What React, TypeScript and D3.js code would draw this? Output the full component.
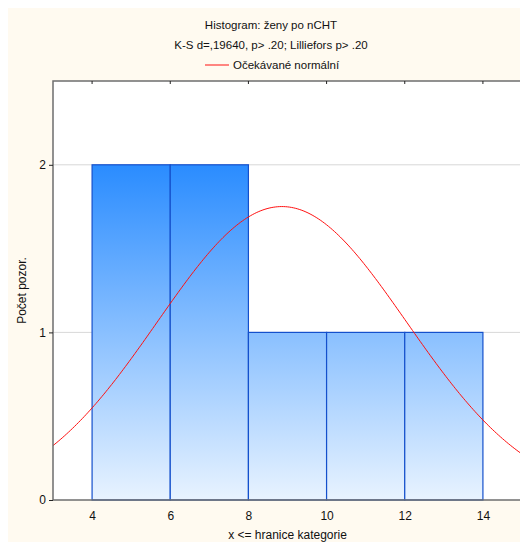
import { useEffect, useRef } from "react";
import * as d3 from "d3";

const binStarts = [4, 6, 8, 10, 12];
const binEnds = [6, 8, 10, 12, 14];
const counts = [2, 2, 1, 1, 1];
const xTicks = [4, 6, 8, 10, 12, 14];
const yTicks = [0, 1, 2];
const normalMean = 8.857;
const normalSd = 3.19;
const sampleSize = 7;

export default function App() {
  const svgRef = useRef<SVGSVGElement>(null);

  useEffect(() => {
    if (!svgRef.current) return;
    const width = 520;
    const height = 534;
    const margin = { top: 73, right: 6, bottom: 42, left: 45 };
    const innerWidth = width - margin.left - margin.right;
    const innerHeight = height - margin.top - margin.bottom;
    const font = "'Liberation Sans', Arial, sans-serif";

    d3.select(svgRef.current).selectAll("*").remove();
    const svg = d3
      .select(svgRef.current)
      .attr("width", width)
      .attr("height", height)
      .style("display", "block");

    svg.append("rect").attr("width", width).attr("height", height).attr("fill", "#fffaf0");

    const g = svg.append("g").attr("transform", `translate(${margin.left},${margin.top})`);

    const x = d3.scaleLinear().domain([3, 15]).range([0, innerWidth]);
    const y = d3.scaleLinear().domain([0, 2.5]).range([innerHeight, 0]);

    // gradient for bars
    const grad = svg
      .append("defs")
      .append("linearGradient")
      .attr("id", "bar-grad")
      .attr("gradientUnits", "userSpaceOnUse")
      .attr("x1", 0)
      .attr("x2", 0)
      .attr("y1", y(2))
      .attr("y2", y(0));
    grad.append("stop").attr("offset", "0%").attr("stop-color", "#2a8cff");
    grad.append("stop").attr("offset", "100%").attr("stop-color", "#e8f3ff");

    g.append("rect").attr("width", innerWidth).attr("height", innerHeight).attr("fill", "#ffffff");

    // gridlines
    g.selectAll(".grid")
      .data(yTicks.filter((d) => d > 0))
      .join("line")
      .attr("x1", 0)
      .attr("x2", innerWidth)
      .attr("y1", (d) => y(d))
      .attr("y2", (d) => y(d))
      .attr("stroke", "#d8d8d8")
      .attr("stroke-width", 1);

    // bars
    g.selectAll(".bar")
      .data(counts)
      .join("rect")
      .attr("x", (_, i) => x(binStarts[i]))
      .attr("y", (d) => y(d))
      .attr("width", (_, i) => x(binEnds[i]) - x(binStarts[i]))
      .attr("height", (d) => innerHeight - y(d))
      .attr("fill", "url(#bar-grad)")
      .attr("stroke", "#1450cc")
      .attr("stroke-width", 1.2);

    // expected normal curve
    const pts = d3.range(3, 15.001, 0.05);
    const line = d3
      .line<number>()
      .x((d) => x(d))
      .y((d) =>
        y(
          ((sampleSize * 2) / (normalSd * Math.sqrt(2 * Math.PI))) *
            Math.exp(-((d - normalMean) ** 2) / (2 * normalSd * normalSd))
        )
      );
    g.append("path")
      .datum(pts)
      .attr("d", line)
      .attr("fill", "none")
      .attr("stroke", "#ff1010")
      .attr("stroke-width", 1);

    // frame
    g.append("rect")
      .attr("width", innerWidth)
      .attr("height", innerHeight)
      .attr("fill", "none")
      .attr("stroke", "#6e6e6e")
      .attr("stroke-width", 1.5);

    // inner mirror ticks on top
    g.selectAll(".ttick")
      .data(xTicks)
      .join("line")
      .attr("x1", (d) => x(d))
      .attr("x2", (d) => x(d))
      .attr("y1", 0)
      .attr("y2", 3)
      .attr("stroke", "#222");

    // axes
    const xAxis = g
      .append("g")
      .attr("transform", `translate(0,${innerHeight})`)
      .call(d3.axisBottom(x).tickValues(xTicks).tickSize(0).tickPadding(11).tickFormat(d3.format("d")));
    xAxis.select(".domain").remove();
    xAxis.selectAll("text").attr("font-family", font).attr("font-size", 12).attr("fill", "#111");

    const yAxis = g
      .append("g")
      .call(d3.axisLeft(y).tickValues(yTicks).tickSize(4).tickPadding(3).tickFormat(d3.format("d")));
    yAxis.select(".domain").remove();
    yAxis.selectAll("line").attr("stroke", "#222");
    yAxis.selectAll("text").attr("font-family", font).attr("font-size", 12).attr("fill", "#111");

    // titles
    const cx = width / 2 + 3;
    svg.append("text").attr("x", cx).attr("y", 21).attr("text-anchor", "middle")
      .attr("font-family", font).attr("font-size", 11.5).attr("fill", "#111")
      .text("Histogram: ženy po nCHT");
    svg.append("text").attr("x", cx).attr("y", 41).attr("text-anchor", "middle")
      .attr("font-family", font).attr("font-size", 11.5).attr("fill", "#111")
      .text("K-S d=,19640, p> .20; Lilliefors p> .20");
    svg.append("line").attr("x1", 197).attr("x2", 221).attr("y1", 57).attr("y2", 57)
      .attr("stroke", "#ff1010").attr("stroke-width", 1);
    svg.append("text").attr("x", 225).attr("y", 61)
      .attr("font-family", font).attr("font-size", 11.5).attr("fill", "#111")
      .text("Očekávané normální");

    svg.append("text")
      .attr("transform", `translate(18,${margin.top + innerHeight / 2}) rotate(-90)`)
      .attr("text-anchor", "middle")
      .attr("font-family", font).attr("font-size", 12).attr("fill", "#111")
      .text("Počet pozor.");
    svg.append("text")
      .attr("x", margin.left + innerWidth / 2)
      .attr("y", 531)
      .attr("text-anchor", "middle")
      .attr("font-family", font).attr("font-size", 12).attr("fill", "#111")
      .text("x <= hranice kategorie");
  }, []);

  return <svg ref={svgRef} />;
}
